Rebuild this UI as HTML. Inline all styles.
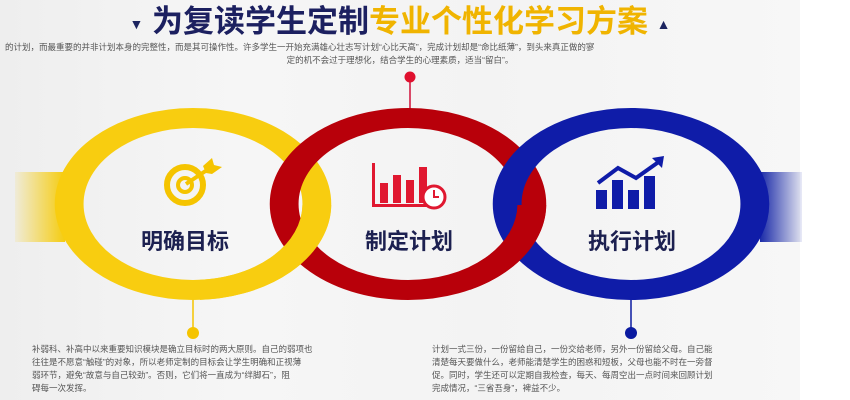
<!DOCTYPE html>
<html><head><meta charset="utf-8">
<style>
html,body{margin:0;padding:0}
body{width:850px;height:400px;overflow:hidden;background:#fff;font-family:"Liberation Sans","Noto Sans CJK SC",sans-serif;position:relative}
.bg{position:absolute;left:0;top:0;width:800px;height:400px;background:linear-gradient(90deg,#eeeeee,#f6f6f6 30%,#f3f3f3 60%,#f7f7f7)}
.t{position:absolute;font-size:8.5px;color:#555;line-height:13px;white-space:nowrap}
</style></head><body>
<div class="bg"></div>
<div style="position:absolute;left:0;top:2px;width:800px;text-align:center;font-size:31px;font-weight:bold;line-height:40px;letter-spacing:0px">
<span style="font-size:14px;color:#1c2460;vertical-align:middle">▼</span>
<span style="color:#1c2060">为复读学生定制</span><span style="color:#f0b400">专业个性化学习方案</span>
<span style="font-size:14px;color:#1c2460;vertical-align:middle">▲</span></div>
<div class="t" style="left:5px;top:41px;width:790px;overflow:hidden">的计划，而最重要的并非计划本身的完整性，而是其可操作性。许多学生一开始充满雄心壮志写计划“心比天高”，完成计划却是“命比纸薄”，到头来真正做的寥</div>
<div class="t" style="left:0;top:54px;width:800px;text-align:center">定的机不会过于理想化，结合学生的心理素质，适当“留白”。</div>

<svg width="850" height="400" style="position:absolute;left:0;top:0">
<defs>
<linearGradient id="gy" x1="0" x2="1"><stop offset="0" stop-color="#f5cc10" stop-opacity="0.1"/><stop offset="1" stop-color="#f5cc10"/></linearGradient>
<linearGradient id="gb" x1="0" x2="1"><stop offset="0" stop-color="#1a2aa8"/><stop offset="1" stop-color="#1a2aa8" stop-opacity="0.1"/></linearGradient>
<clipPath id="cr"><rect x="470" y="205" width="200" height="200"/></clipPath>
<clipPath id="cy"><rect x="200" y="205" width="200" height="200"/></clipPath>
</defs>
<rect x="15" y="172" width="50" height="70" fill="url(#gy)"/>
<rect x="760" y="172" width="42" height="70" fill="url(#gb)"/>
<line x1="410" y1="78" x2="410" y2="112" stroke="#d0103a" stroke-width="1.5"/>
<circle cx="410" cy="77" r="5.5" fill="#e0102e"/>
<line x1="193" y1="298" x2="193" y2="332" stroke="#f5c400" stroke-width="1.5"/>
<circle cx="193" cy="333" r="6" fill="#f5c400"/>
<line x1="631" y1="298" x2="631" y2="332" stroke="#0a1aa0" stroke-width="1.5"/>
<circle cx="631" cy="333" r="6" fill="#0a1aa0"/>
<g transform="translate(193,204) scale(1.44,1)"><circle r="86" fill="none" stroke="#f8cd10" stroke-width="20"/></g>
<g transform="translate(408,204) scale(1.44,1)"><circle r="86" fill="none" stroke="#b8000a" stroke-width="20"/></g>
<g transform="translate(631,204) scale(1.44,1)"><circle r="86" fill="none" stroke="#0f1ca8" stroke-width="20"/></g>
<g clip-path="url(#cr)"><g transform="translate(408,204) scale(1.44,1)"><circle r="86" fill="none" stroke="#b8000a" stroke-width="20"/></g></g>
<g clip-path="url(#cy)"><g transform="translate(193,204) scale(1.44,1)"><circle r="86" fill="none" stroke="#f8cd10" stroke-width="20"/></g></g>
<!-- target icon -->
<g fill="none" stroke="#f5c400">
<circle cx="185" cy="185" r="18" stroke-width="6"/>
<circle cx="185" cy="185" r="7" stroke-width="4"/>
<line x1="186" y1="184" x2="210" y2="168" stroke-width="4"/>
</g>
<polygon points="203,166 212,158 214,165 222,167 212,174 206,173" fill="#f5c400"/>
<!-- red chart -->
<g fill="#e01830">
<rect x="372" y="163" width="3" height="44"/><rect x="372" y="204" width="62" height="3"/>
<rect x="380" y="183" width="8" height="20"/><rect x="393" y="175" width="8" height="28"/><rect x="406" y="180" width="8" height="23"/><rect x="419" y="167" width="8" height="36"/>
</g>
<circle cx="434" cy="197" r="11" fill="#fff" stroke="#e01830" stroke-width="3"/>
<path d="M434 190 V197 H439" fill="none" stroke="#e01830" stroke-width="2"/>
<!-- blue chart -->
<g fill="#0f1ca8">
<rect x="596" y="190" width="11" height="19"/><rect x="612" y="180" width="11" height="29"/><rect x="628" y="190" width="11" height="19"/><rect x="644" y="176" width="11" height="33"/>
</g>
<polyline points="598,183 618,168 636,178 660,161" fill="none" stroke="#0f1ca8" stroke-width="4"/>
<polygon points="664,156 652,158 662,168" fill="#0f1ca8"/>
<g font-family="Liberation Sans,Noto Sans CJK SC,sans-serif" font-weight="bold" font-size="22" fill="#1c2050" text-anchor="middle">
<text x="185" y="249">明确目标</text><text x="409" y="249">制定计划</text><text x="632" y="249">执行计划</text>
</g>
</svg>
<div class="t" style="left:32px;top:343px">补弱科、补高中以来重要知识模块是确立目标时的两大原则。自己的弱项也<br>往往是不愿意“触碰”的对象，所以老师定制的目标会让学生明确和正视薄<br>弱环节，避免“故意与自己较劲”。否则，它们将一直成为“绊脚石”，阻<br>碍每一次发挥。</div>
<div class="t" style="left:432px;top:343px">计划一式三份，一份留给自己，一份交给老师，另外一份留给父母。自己能<br>清楚每天要做什么，老师能清楚学生的困惑和短板，父母也能不时在一旁督<br>促。同时，学生还可以定期自我检查，每天、每周空出一点时间来回顾计划<br>完成情况，“三省吾身”，裨益不少。</div>
</body></html>
